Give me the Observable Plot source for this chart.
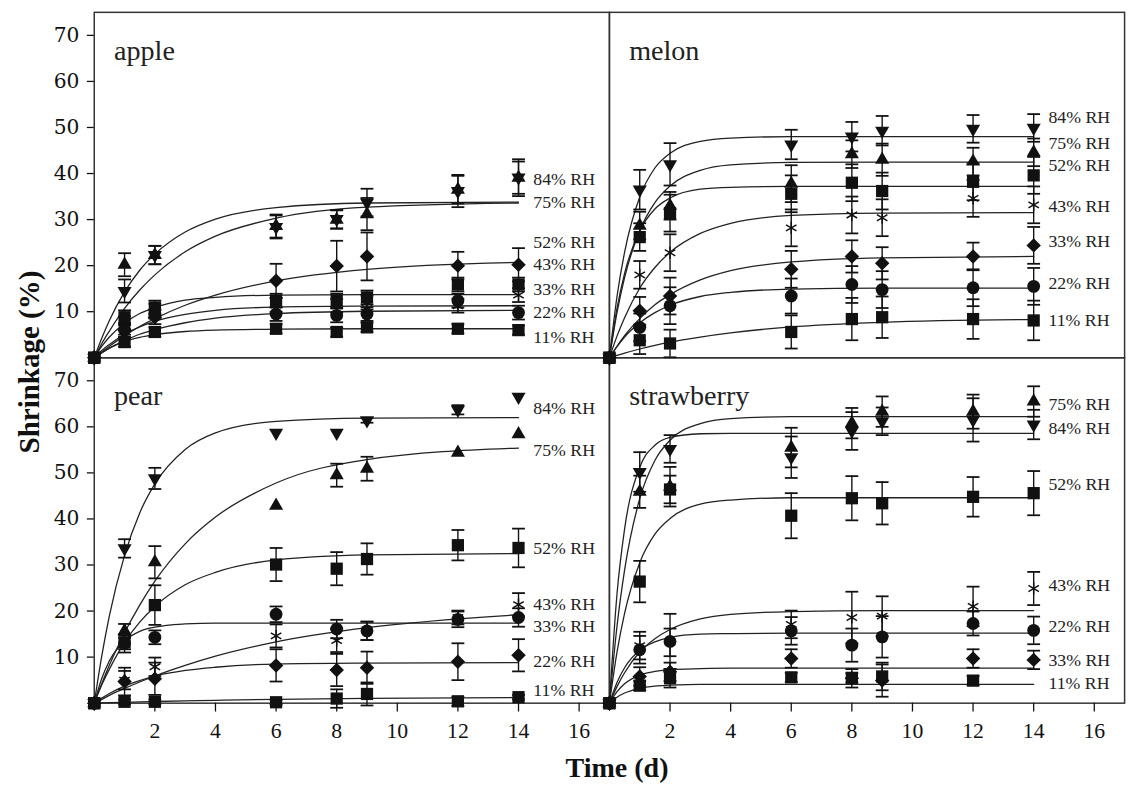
<!DOCTYPE html>
<html><head><meta charset="utf-8">
<script src="https://cdn.jsdelivr.net/npm/d3@7"></script>
<script src="https://cdn.jsdelivr.net/npm/@observablehq/plot@0.6"></script>
<style>
html,body{margin:0;padding:0;background:#fff;overflow:hidden;}
#wrap{position:relative;width:1132px;height:790px;overflow:hidden;background:#fff;}
#chart{position:absolute;left:0;top:0;}
.ylab{position:absolute;left:29px;top:362px;transform:translate(-50%,-50%) rotate(-90deg);font:bold 29px "Liberation Serif",serif;white-space:nowrap;color:#111;}
.xlab{position:absolute;left:617px;top:768px;transform:translate(-50%,-50%);font:bold 28px "Liberation Serif",serif;white-space:nowrap;color:#111;}
</style></head>
<body><div id="wrap"><div id="chart"></div><div class="ylab">Shrinkage (%)</div><div class="xlab">Time (d)</div></div>
<script>
// ---------- data ----------
const fruits = ["apple", "melon", "pear", "strawberry"];
const fruitCol = [0, 1, 0, 1];
const fruitRow = [0, 0, 1, 1];
const rhLevels = ["84", "75", "52", "43", "33", "22", "11"];
const rhMarker = ["down", "triangle", "square", "asterisk", "diamond2", "circle", "square"];
const days = [0, 1, 2, 6, 8, 9, 12, 14];
const fitDays = [0, 0.25, 0.5, 1, 1.5, 2, 3, 4, 6, 9, 14];
const xTicks = [2, 4, 6, 8, 10, 12, 14, 16];
const yTicks = [10, 20, 30, 40, 50, 60, 70];

// means, rows in rhLevels order
const appleMean = [
  [0, 14.5, 22.3, 28.4, 30.1, 33.7, 36.2, 39.1],
  [0, 20.2, 22.3, 28.6, 30.0, 31.2, 36.5, 39.1],
  [0, 8.8, 10.9, 12.4, 12.4, 13.1, 15.9, 15.9],
  [0, 7.5, 10.2, 11.5, 11.3, 12.0, 11.3, 13.6],
  [0, 6.0, 8.8, 16.7, 19.9, 22.0, 20.0, 20.2],
  [0, 6.0, 9.5, 9.5, 9.2, 9.5, 12.4, 9.8],
  [0, 3.4, 5.6, 6.3, 5.6, 6.6, 6.3, 6.0]
];
const appleErr = [
  [0, 2.5, 2, 2.5, 2, 3, 3.5, 3.5],
  [0, 2.5, 2, 2.5, 2, 3.5, 3, 4],
  [0, 1.5, 1.5, 1.5, 1.5, 1.5, 1.5, 1.5],
  [0, 1.5, 1.5, 1.5, 1.5, 1.5, 1.5, 1.5],
  [0, 1.5, 1.5, 3.7, 5.5, 5.2, 3, 3.6],
  [0, 1, 1, 1.5, 1.5, 1.5, 1.5, 1.5],
  [0, 1, 1, 1, 1, 1, 1, 1]
];
const appleFit = [
  [0, 4.3, 8.1, 14.3, 19.0, 22.5, 27.3, 30.1, 32.6, 33.6, 33.8],
  [0, 3.1, 5.8, 10.7, 14.7, 18.0, 23.0, 26.4, 30.3, 32.7, 33.6],
  [0, 2.5, 4.5, 7.5, 9.6, 10.9, 12.5, 13.1, 13.6, 13.7, 13.7],
  [0, 1.6, 2.9, 5.1, 6.7, 7.9, 9.4, 10.3, 11.0, 11.2, 11.3],
  [0, 1.3, 2.5, 4.8, 6.8, 8.5, 11.4, 13.6, 16.7, 19.2, 20.7],
  [0, 1.1, 2.1, 3.7, 5.1, 6.1, 7.6, 8.6, 9.6, 10.1, 10.3],
  [0, 1.1, 2.1, 3.5, 4.4, 5.0, 5.7, 6.0, 6.2, 6.3, 6.3]
];
const appleLabel = [38.7, 33.7, 25.1, 20.2, 14.8, 9.8, 4.5];

const melonMean = [
  [0, 36.5, 42.0, 46.3, 48.0, 49.3, 49.7, 49.9],
  [0, 28.7, 33.0, 37.8, 44.2, 43.0, 42.6, 44.6],
  [0, 26.2, 31.4, 35.6, 38.0, 36.2, 38.2, 39.6],
  [0, 18.0, 22.8, 28.2, 31.0, 30.4, 34.6, 33.2],
  [0, 10.2, 13.4, 19.2, 22.0, 20.5, 22.0, 24.4],
  [0, 6.6, 11.3, 13.4, 15.9, 14.8, 15.2, 15.5],
  [0, 3.8, 3.1, 5.6, 8.4, 8.8, 8.4, 8.1]
];
const melonErr = [
  [0, 4.3, 4.6, 3.2, 3.2, 3.2, 3, 3],
  [0, 3, 3, 4, 3, 3.5, 3, 3],
  [0, 3, 4, 4, 4, 4, 4, 4],
  [0, 3, 4, 4, 4, 4, 4, 4],
  [0, 3, 4, 4, 3.5, 3.5, 3, 4],
  [0, 3, 4, 3.8, 4, 4, 4, 4],
  [0, 3, 3, 3.6, 4.6, 4.5, 4.3, 4.3]
];
const melonFit = [
  [0, 13.3, 22.9, 34.9, 41.2, 44.4, 47.0, 47.7, 48.0, 48.0, 48.0],
  [0, 9.8, 17.4, 27.6, 33.7, 37.3, 40.7, 41.9, 42.4, 42.5, 42.5],
  [0, 10.7, 18.3, 27.6, 32.3, 34.7, 36.6, 37.0, 37.2, 37.2, 37.2],
  [0, 4.7, 8.7, 15.1, 19.6, 22.9, 27.0, 29.2, 30.9, 31.4, 31.5],
  [0, 2.5, 4.8, 8.5, 11.5, 13.7, 16.9, 18.9, 20.8, 21.7, 22.0],
  [0, 2.4, 4.5, 7.6, 9.8, 11.4, 13.3, 14.2, 14.9, 15.1, 15.1],
  [0, 0.5, 1.0, 1.9, 2.7, 3.4, 4.5, 5.4, 6.7, 7.7, 8.3]
];
const melonLabel = [52.3, 46.6, 41.8, 32.9, 25.3, 16.1, 8.1];

const pearMean = [
  [0, 33.6, 48.8, 58.7, 58.7, 61.4, 63.7, 66.5],
  [0, 15.7, 30.6, 42.9, 49.5, 50.9, 54.4, 58.4],
  [0, 13.2, 21.3, 30.1, 29.2, 31.3, 34.3, 33.7],
  [0, 5.0, 7.9, 14.6, 13.6, 15.7, 18.6, 21.4],
  [0, 4.7, 5.3, 8.2, 7.2, 7.7, 9.0, 10.4],
  [0, 13.0, 14.3, 19.3, 16.1, 15.7, 18.2, 18.6],
  [0, 0.3, 0.3, 0.2, 1.0, 2.0, 0.4, 1.3]
];
const pearErr = [
  [0, 2, 2.3, 0, 0, 0.5, 1, 0],
  [0, 1.5, 3.5, 0, 2.5, 2.6, 0, 0],
  [0, 1.5, 4.3, 3.6, 3.6, 3.4, 3.3, 4.2],
  [0, 2, 2, 2.5, 2.5, 2, 1.5, 2.5],
  [0, 3, 3.5, 3.5, 3.5, 3.5, 4, 3.5],
  [0, 2, 1.5, 1.7, 2, 2, 1.7, 2],
  [0, 0.5, 0.5, 0.5, 2, 2.5, 1, 0.5]
];
const pearFit = [
  [0, 10.3, 19.0, 32.1, 41.3, 47.6, 55.1, 58.7, 61.2, 61.9, 62.0],
  [0, 4.3, 8.3, 15.3, 21.3, 26.5, 34.6, 40.4, 47.8, 52.9, 55.4],
  [0, 4.0, 7.4, 13.2, 17.6, 21.0, 25.7, 28.4, 31.1, 32.2, 32.5],
  [0, 0.8, 1.7, 3.2, 4.6, 5.9, 8.2, 10.2, 13.3, 16.4, 19.2],
  [0, 1.1, 2.1, 3.7, 4.9, 5.9, 7.1, 7.8, 8.5, 8.7, 8.8],
  [0, 5.4, 9.2, 13.5, 15.6, 16.5, 17.2, 17.4, 17.4, 17.4, 17.4],
  [0, 0.05, 0.1, 0.2, 0.28, 0.36, 0.51, 0.63, 0.83, 1.04, 1.23]
];
const pearLabel = [64.0, 55.0, 33.7, 21.4, 16.6, 9.0, 2.8];

const strawberryMean = [
  [0, 50.2, 55.2, 53.4, 59.1, 61.2, 61.5, 60.5],
  [0, 45.9, 47.0, 55.5, 60.8, 63.3, 63.3, 65.5],
  [0, 26.4, 46.4, 40.7, 44.5, 43.4, 44.8, 45.6],
  [0, 12.5, 13.2, 17.1, 18.6, 18.9, 21.0, 24.9],
  [0, 5.8, 6.8, 9.7, 5.4, 4.9, 9.7, 9.4],
  [0, 11.6, 13.4, 15.7, 12.6, 14.4, 17.3, 15.8],
  [0, 3.8, 5.4, 5.6, 5.5, 5.8, 4.9, null]
];
const strawberryErr = [
  [0, 4.3, 3, 4.5, 4.1, 3, 4.7, 3.2],
  [0, 3.5, 4.3, 4.3, 3.3, 3.3, 3.7, 3.3],
  [0, 4.5, 3, 4.9, 4.8, 4.6, 4.3, 4.8],
  [0, 3, 3, 3, 5.6, 4.3, 4.3, 3.6],
  [0, 2, 2, 2, 2, 3.5, 2, 2],
  [0, 3, 6, 3, 3.6, 4.5, 2.6, 3],
  [0, 1, 2, 1, 1, 3, 1, 0]
];
const strawberryFit = [
  [0, 23.7, 37.8, 51.2, 56.0, 57.7, 58.5, 58.6, 58.6, 58.6, 58.6],
  [0, 16.7, 28.9, 44.4, 52.7, 57.1, 60.7, 61.8, 62.2, 62.2, 62.2],
  [0, 11.1, 19.5, 30.5, 36.7, 40.1, 43.2, 44.1, 44.6, 44.6, 44.6],
  [0, 3.6, 6.6, 11.1, 14.0, 16.0, 18.3, 19.3, 19.9, 20.1, 20.1],
  [0, 2.5, 4.2, 6.1, 6.9, 7.3, 7.5, 7.6, 7.6, 7.6, 7.6],
  [0, 4.5, 7.7, 11.5, 13.3, 14.3, 15.0, 15.1, 15.2, 15.2, 15.2],
  [0, 1.3, 2.2, 3.2, 3.7, 3.9, 4.1, 4.1, 4.1, 4.1, 4.1]
];
const strawberryLabel = [59.7, 64.8, 47.5, 25.6, 9.2, 16.6, 4.3];

// ---------- tables ----------
const sets = [
  [appleMean, appleErr, appleFit, appleLabel],
  [melonMean, melonErr, melonFit, melonLabel],
  [pearMean, pearErr, pearFit, pearLabel],
  [strawberryMean, strawberryErr, strawberryFit, strawberryLabel]
];
const points = [], fits = [], labels = [], titles = [];
fruits.forEach((f, fi) => {
  const [mean, err, fit, lab] = sets[fi];
  const col = fruitCol[fi], row = fruitRow[fi];
  titles.push({name: f, col, row});
  rhLevels.forEach((rh, ri) => {
    days.forEach((d, di) => {
      const v = mean[ri][di];
      if (v == null) return;
      const e = err[ri][di];
      points.push({fruit: f, col, row, rh, marker: rhMarker[ri], day: d, v, e, lo: v - e, hi: v + e});
    });
    fitDays.forEach((d, di) => fits.push({fruit: f, col, row, rh, day: d, v: fit[ri][di]}));
    labels.push({col, row, rh, day: days[days.length - 1], v: lab[ri], text: rh + "% RH"});
  });
});
const errPts = points.filter(p => p.e > 0);

// ---------- symbols ----------
const triangleDown = {draw(context, size) {
  const y = -Math.sqrt(size / (Math.sqrt(3) * 3));
  context.moveTo(0, -y * 2);
  context.lineTo(-Math.sqrt(3) * y, y);
  context.lineTo(Math.sqrt(3) * y, y);
  context.closePath();
}};
const capSymbol = {draw(context, size) {
  const w = Math.sqrt(size) / 2;
  context.moveTo(-w, 0);
  context.lineTo(w, 0);
}};

const ink = "#111";
const fx = "col", fy = "row";
const byMarker = m => points.filter(p => p.marker === m);

const chart = Plot.plot({
  width: 1147, height: 790,
  marginLeft: 94.5, marginRight: 8.5, marginTop: 12, marginBottom: 78,
  style: {fontFamily: "'Liberation Serif', serif", color: ink, background: "#fff", overflow: "visible"},
  fx: {axis: null, padding: 0, domain: [0, 1]},
  fy: {axis: null, padding: 0, domain: [0, 1]},
  x: {domain: [0, 17]},
  y: {domain: [0, 75]},
  marks: [
    Plot.frame({stroke: "#333", strokeWidth: 1.5}),
    Plot.axisY({ticks: yTicks, tickSize: 7, tickPadding: 8, fontSize: 20.5, fontFamily: "'DejaVu Serif', serif", label: null, strokeWidth: 1.3, facetAnchor: "left"}),
    Plot.axisX({ticks: xTicks, tickSize: 9, tickPadding: 11, fontSize: 22, label: null, strokeWidth: 1.3, facetAnchor: "bottom"}),
    Plot.line(fits, {x: "day", y: "v", z: "rh", fx, fy, curve: "monotone-x", stroke: "#222", strokeWidth: 1.3}),
    Plot.ruleX(errPts, {x: "day", y1: "lo", y2: "hi", fx, fy, stroke: ink, strokeWidth: 1.4}),
    Plot.dot(errPts, {x: "day", y: "lo", fx, fy, symbol: capSymbol, r: 7.33, stroke: ink, strokeWidth: 1.8, fill: "none"}),
    Plot.dot(errPts, {x: "day", y: "hi", fx, fy, symbol: capSymbol, r: 7.33, stroke: ink, strokeWidth: 1.8, fill: "none"}),
    Plot.dot(byMarker("asterisk"), {x: "day", y: "v", fx, fy, symbol: "asterisk", r: 5.8, stroke: ink, strokeWidth: 1.5, fill: "none"}),
    Plot.dot(byMarker("circle"), {x: "day", y: "v", fx, fy, symbol: "circle", r: 6.5, fill: ink, stroke: "none"}),
    Plot.dot(byMarker("diamond2"), {x: "day", y: "v", fx, fy, symbol: "diamond2", r: 6.6, fill: ink, stroke: "none"}),
    Plot.dot(byMarker("triangle"), {x: "day", y: "v", fx, fy, symbol: "triangle", r: 5.3, fill: ink, stroke: "none"}),
    Plot.dot(byMarker("down"), {x: "day", y: "v", fx, fy, symbol: triangleDown, r: 5.3, fill: ink, stroke: "none"}),
    Plot.dot(byMarker("square"), {x: "day", y: "v", fx, fy, symbol: "square", r: 7.0, fill: ink, stroke: "none"}),
    Plot.text(labels, {x: "day", y: "v", fx, fy, text: "text", dx: 15, textAnchor: "start", fontSize: 18, fill: "#222"}),
    Plot.text(titles, {fx, fy, text: "name", frameAnchor: "top-left", dx: 20, dy: 28, textAnchor: "start", fontSize: 28.5, fill: "#222"})
  ]
});
document.getElementById("chart").appendChild(chart);
</script>
</body></html>
